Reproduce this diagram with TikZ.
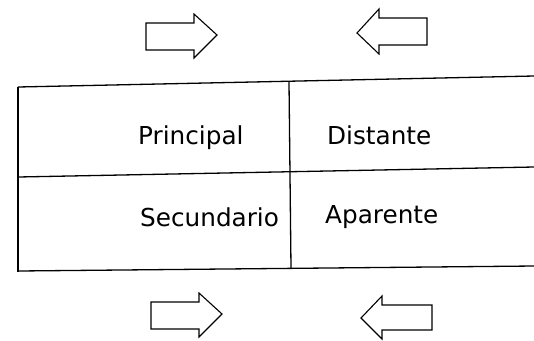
\documentclass[tikz,border=0pt]{standalone}
\usepackage{fontspec}
\setmainfont{DejaVu Sans}
\begin{document}
\begin{tikzpicture}[x=1bp,y=-1bp,
  rule/.style={line width=1.3bp, black},
  arrowshape/.style={line width=1.1bp, black, line join=miter},
  cell/.style={inner sep=0pt, font=\fontsize{24.8}{26}\selectfont, anchor=west}]
\useasboundingbox (0,0) rectangle (534,340);
% table
\draw[rule] (18,87) -- (534,76);
\draw[rule] (18,177) -- (534,167);
\draw[rule] (18,271) -- (534,266);
\draw[rule] (18,87) -- (18,272);
\draw[rule] (289,82) -- (291,268);
% texts
\node[cell] (p) at (138,138) {Principal};
\node[cell] (d) at (327,135) {Distante};
\node[cell] (s) at (140,217) {Secundario};
\node[cell] (a) at (325,217) {Aparente};
% arrows top
\draw[arrowshape] (146,23) -- (194,23) -- (194,14) -- (217,35) -- (194,58) -- (194,50) -- (146,50) -- cycle;
\draw[arrowshape] (427,18) -- (379,18) -- (379,9) -- (357,33) -- (379,54) -- (379,45) -- (427,45) -- cycle;
% arrows bottom
\draw[arrowshape] (151,302) -- (199,302) -- (199,293) -- (222,314) -- (199,337) -- (199,329) -- (151,329) -- cycle;
\draw[arrowshape] (432,305) -- (382,305) -- (382,296) -- (361,318) -- (382,339) -- (382,330) -- (432,330) -- cycle;
\end{tikzpicture}
\end{document}
